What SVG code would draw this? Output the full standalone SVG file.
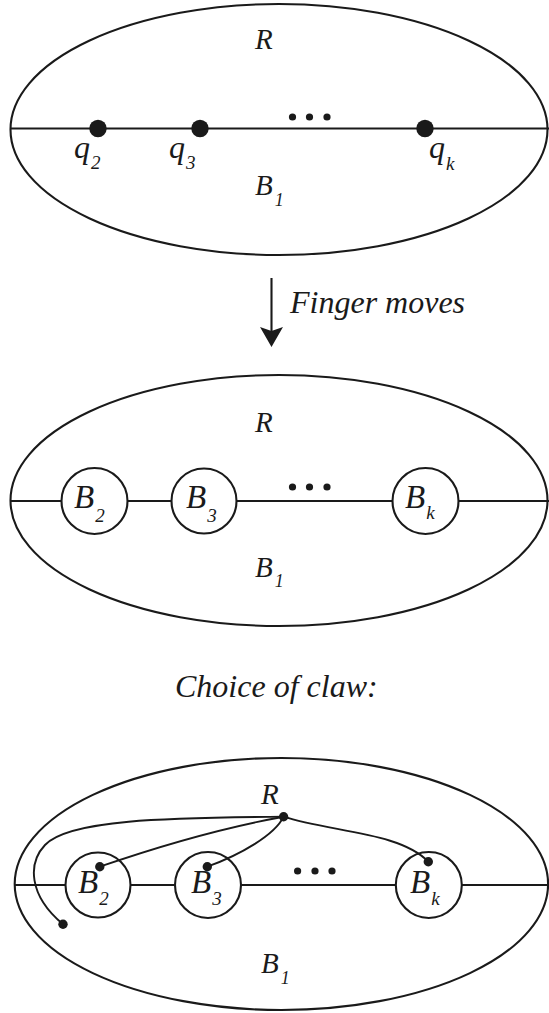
<svg xmlns="http://www.w3.org/2000/svg" width="549" height="1013" viewBox="0 0 549 1013">
<style>
.o{fill:none;stroke:#1a1a1a;stroke-width:2.1}
.c{fill:#fff;stroke:#1a1a1a;stroke-width:2.1}
.w{fill:none;stroke:#1a1a1a;stroke-width:1.9}
.d{fill:#1a1a1a}
text{font-family:"Liberation Serif","Times New Roman",serif;font-style:italic;fill:#1a1a1a}
.L{font-size:29px}
.M{font-size:33px}
.Q{font-size:32px}
.s{font-size:19px}
.s1{font-size:18px}
.T{font-size:32px}
</style>

<g id="panel-top">
<ellipse class="o" cx="279" cy="129.5" rx="268.5" ry="125.5"/>
<line class="o" x1="10.5" y1="128.5" x2="549" y2="128.5"/>
<circle class="d" cx="98" cy="128.5" r="8.7"/>
<circle class="d" cx="200" cy="128.5" r="8.7"/>
<circle class="d" cx="425" cy="128.5" r="8.7"/>
<circle class="d" cx="292.5" cy="117" r="3.6"/>
<circle class="d" cx="309.5" cy="117" r="3.6"/>
<circle class="d" cx="327" cy="117" r="3.6"/>
<text class="L" x="255" y="49">R</text>
<text class="Q" x="74" y="158">q<tspan class="s" dx="1" dy="11">2</tspan></text>
<text class="Q" x="169" y="158">q<tspan class="s" dx="1" dy="11">3</tspan></text>
<text class="Q" x="429" y="158">q<tspan class="s" dx="1" dy="12">k</tspan></text>
<text class="L" x="255" y="195">B<tspan class="s1" dx="2" dy="10.5">1</tspan></text>
</g>

<g id="arrow-step">
<line class="o" x1="271.5" y1="278" x2="271.5" y2="335"/>
<polygon class="d" points="260,327 271.5,331 283,327 271.5,347"/>
<text class="T" x="290" y="313">Finger moves</text>
</g>

<g id="panel-middle">
<ellipse class="o" cx="279" cy="500.5" rx="268.5" ry="125.5"/>
<line class="o" x1="10.5" y1="501" x2="549" y2="501"/>
<circle class="c" cx="94.5" cy="501" r="33"/>
<circle class="c" cx="204" cy="501" r="32.5"/>
<circle class="c" cx="425.5" cy="501" r="33"/>
<circle class="d" cx="292.5" cy="487" r="3.6"/>
<circle class="d" cx="309.5" cy="487" r="3.6"/>
<circle class="d" cx="327" cy="487" r="3.6"/>
<text class="L" x="255" y="432">R</text>
<text class="M" x="74" y="508">B<tspan class="s" dx="1" dy="13.5">2</tspan></text>
<text class="M" x="186" y="508">B<tspan class="s" dx="1" dy="13.5">3</tspan></text>
<text class="M" x="405" y="508">B<tspan class="s" dx="1" dy="10.5">k</tspan></text>
<text class="L" x="255" y="577">B<tspan class="s1" dx="2" dy="10">1</tspan></text>
</g>

<g id="caption">
<text class="T" x="175" y="697">Choice of claw:</text>
</g>

<g id="panel-bottom">
<ellipse class="o" cx="281.4" cy="884" rx="266.7" ry="126"/>
<line class="o" x1="14.7" y1="885" x2="549" y2="885"/>
<circle class="c" cx="98" cy="885" r="32.5"/>
<circle class="c" cx="208" cy="885" r="33"/>
<circle class="c" cx="428.8" cy="885" r="33"/>
<circle class="d" cx="297.6" cy="871" r="3.6"/>
<circle class="d" cx="315" cy="871" r="3.6"/>
<circle class="d" cx="332" cy="871" r="3.6"/>
<text class="L" x="261" y="803.5">R</text>
<text class="M" x="78" y="893.3">B<tspan class="s" dx="1" dy="12">2</tspan></text>
<text class="M" x="191" y="893.3">B<tspan class="s" dx="1" dy="12">3</tspan></text>
<text class="M" x="410" y="893.3">B<tspan class="s" dx="1" dy="11.5">k</tspan></text>
<text class="L" x="261" y="973.3">B<tspan class="s1" dx="2" dy="11">1</tspan></text>
</g>

<g id="connectors">
<path class="w" d="M283.6,816.7 Q200,832 99.8,866.7"/>
<path class="w" d="M283.6,816.7 C275,835 240,855 207.3,866.7"/>
<path class="w" d="M283.6,816.7 C330,832 400,832 428.3,861.7"/>
<path class="w" d="M283.6,816.7 C180,818 70,818 45,845 C28,863 28,895 63,924.3"/>
<circle class="d" cx="283.6" cy="816.7" r="4.7"/>
<circle class="d" cx="99.8" cy="866.7" r="4.7"/>
<circle class="d" cx="207.3" cy="866.7" r="4.7"/>
<circle class="d" cx="428.3" cy="861.7" r="4.7"/>
<circle class="d" cx="63" cy="924.3" r="4.7"/>
</g>
</svg>
